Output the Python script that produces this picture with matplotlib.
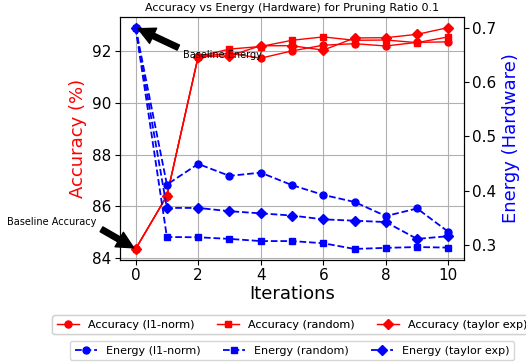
import matplotlib
matplotlib.use('Agg')
import matplotlib.pyplot as plt

iterations = [0, 1, 2, 3, 4, 5, 6, 7, 8, 9, 10]

# accuracy (%) per pruning method
acc_l1 = [84.36, 86.41, 91.78, 91.91, 91.72, 92.0, 92.22, 92.28, 92.19, 92.33, 92.35]
acc_random = [84.36, 86.41, 91.78, 92.07, 92.17, 92.41, 92.54, 92.41, 92.42, 92.32, 92.54]
acc_taylor = [84.36, 86.41, 91.78, 91.81, 92.2, 92.2, 92.03, 92.5, 92.51, 92.64, 92.9]

# energy (hardware) per pruning method
en_l1 = [0.7, 0.411, 0.449, 0.427, 0.433, 0.410, 0.392, 0.379, 0.353, 0.367, 0.324]
en_random = [0.7, 0.3145, 0.314, 0.311, 0.307, 0.307, 0.303, 0.2925, 0.2945, 0.296, 0.295]
en_taylor = [0.7, 0.368, 0.368, 0.362, 0.358, 0.354, 0.347, 0.3445, 0.342, 0.311, 0.316]

fig = plt.figure(figsize=(5.26, 3.63), dpi=100)
ax1 = fig.add_axes([0.2281, 0.2837, 0.654, 0.6708])
ax2 = ax1.twinx()

ms = 5
l1, = ax1.plot(iterations, acc_l1, 'r-', marker='o', ms=ms, lw=1, label='Accuracy (l1-norm)')
l2, = ax1.plot(iterations, acc_random, 'r-', marker='s', ms=ms, lw=1, label='Accuracy (random)')
l3, = ax1.plot(iterations, acc_taylor, 'r-', marker='D', ms=ms, lw=1, label='Accuracy (taylor exp)')

e1, = ax2.plot(iterations, en_l1, 'b--', marker='o', ms=ms, lw=1.3, label='Energy (l1-norm)')
e2, = ax2.plot(iterations, en_random, 'b--', marker='s', ms=ms, lw=1.3, label='Energy (random)')
e3, = ax2.plot(iterations, en_taylor, 'b--', marker='D', ms=ms, lw=1.3, label='Energy (taylor exp)')

ax1.set_xlabel('Iterations', fontsize=13, labelpad=1)
ax1.set_ylabel('Accuracy (%)', color='red', fontsize=13)
ax2.set_ylabel('Energy (Hardware)', color='blue', fontsize=13)
ax1.set_title('Accuracy vs Energy (Hardware) for Pruning Ratio 0.1', fontsize=8, pad=4)
ax1.tick_params(labelsize=11, pad=2.5)
ax2.tick_params(labelsize=11, pad=2.5)
ax1.grid(True)

ax1.annotate('Baseline Accuracy', xy=(0, acc_l1[0]), xytext=(-4.1, 85.3),
             arrowprops=dict(facecolor='black', shrink=0.05), fontsize=7)
ax2.annotate('Baseline Energy', xy=(0, en_l1[0]), xytext=(1.53, 0.644),
             arrowprops=dict(facecolor='black', shrink=0.05), fontsize=7)

leg1 = ax1.legend(handles=[l1, l2, l3], loc='upper center', bbox_to_anchor=(0.5, -0.205),
                  ncol=3, fontsize=8)
ax1.add_artist(leg1)
ax2.legend(handles=[e1, e2, e3], loc='upper center', bbox_to_anchor=(0.5, -0.31),
           ncol=3, fontsize=8)

plt.savefig('out.png', dpi=100)
